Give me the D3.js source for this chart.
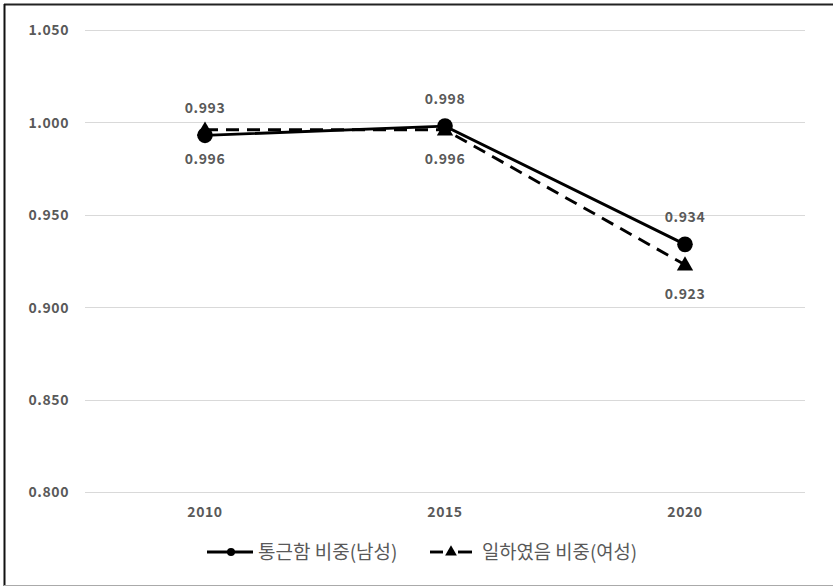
<!DOCTYPE html>
<html><head><meta charset="utf-8">
<script src="https://cdn.jsdelivr.net/npm/d3@7"></script>
<style>body{margin:0;background:#fff}svg{display:block}</style>
</head><body>
<svg id="c" width="833" height="587"></svg>
<script>
const categories = ["2010", "2015", "2020"];
const maleValues = [0.993, 0.998, 0.934];
const femaleValues = [0.996, 0.996, 0.923];
const yTicks = [0.800, 0.850, 0.900, 0.950, 1.000, 1.050];
const seriesNames = ["통근함 비중(남성)", "일하였음 비중(여성)"];

const svg = d3.select("#c");
const font = "'Noto Sans CJK KR','Noto Sans',sans-serif";
const txt = "#595959";

// outer frame
svg.append("rect").attr("x",0).attr("y",0).attr("width",833).attr("height",587).attr("fill","#fff");
svg.append("line").attr("x1",4).attr("x2",833).attr("y1",4.5).attr("y2",4.5).attr("stroke","#222").attr("stroke-width",2);
svg.append("line").attr("x1",4.5).attr("x2",4.5).attr("y1",4).attr("y2",586).attr("stroke","#111").attr("stroke-width",2);
svg.append("line").attr("x1",4).attr("x2",833).attr("y1",585.5).attr("y2",585.5).attr("stroke","#aaa").attr("stroke-width",1);

const x = d3.scaleBand().domain(categories).range([85, 805]);
const y = d3.scaleLinear().domain([0.8, 1.05]).range([492, 30]);

// gridlines
svg.append("g").selectAll("line").data(yTicks).join("line")
  .attr("x1",85).attr("x2",805)
  .attr("y1",d=>Math.round(y(d))+0.5).attr("y2",d=>Math.round(y(d))+0.5)
  .attr("stroke","#d9d9d9").attr("stroke-width",1);

function styleText(sel, size){
  sel.attr("font-family",font).attr("font-size",size).attr("font-weight","bold")
     .attr("fill",txt).attr("letter-spacing","0.6px").attr("dy","0.35em");
}

// y axis labels
const yAxis = d3.axisLeft(y).tickValues(yTicks).tickFormat(d3.format(".3f")).tickSize(0).tickPadding(0);
const gy = svg.append("g").attr("transform","translate(69,0)").call(yAxis);
gy.select(".domain").remove();
gy.selectAll("text").call(styleText, 14);

// x axis labels
const xAxis = d3.axisBottom(x).tickSize(0).tickPadding(0);
const gx = svg.append("g").attr("transform","translate(0,512)").call(xAxis);
gx.select(".domain").remove();
gx.selectAll("text").call(styleText, 14);

const cx = d => x(d) + x.bandwidth()/2;
const line = d3.line().x(d=>cx(d.c)).y(d=>y(d.v));
const male = categories.map((c,i)=>({c, v:maleValues[i]}));
const female = categories.map((c,i)=>({c, v:femaleValues[i]}));

// female dashed line
svg.append("path").datum(female).attr("d",line).attr("fill","none")
  .attr("stroke","#000").attr("stroke-width",2.9).attr("stroke-dasharray","13,8");
// male solid line
svg.append("path").datum(male).attr("d",line).attr("fill","none")
  .attr("stroke","#000").attr("stroke-width",2.9);

const tri = d3.symbol().type(d3.symbolTriangle).size(115);
svg.append("g").selectAll("path").data(female).join("path")
  .attr("d",tri).attr("transform",d=>`translate(${cx(d.c)},${y(d.v)+1})`).attr("fill","#000");
svg.append("g").selectAll("circle").data(male).join("circle")
  .attr("cx",d=>cx(d.c)).attr("cy",d=>y(d.v)).attr("r",7.8).attr("fill","#000");

// data labels
svg.append("g").selectAll("text").data(male).join("text")
  .attr("x",d=>cx(d.c)).attr("y",d=>y(d.v)-27).attr("text-anchor","middle")
  .call(styleText, 14).text(d=>d3.format(".3f")(d.v));
svg.append("g").selectAll("text").data(female).join("text")
  .attr("x",d=>cx(d.c)).attr("y",d=>y(d.v)+29).attr("text-anchor","middle")
  .call(styleText, 14).text(d=>d3.format(".3f")(d.v));

// legend
const ly = 552;
const lg = svg.append("g");
lg.append("line").attr("x1",207).attr("x2",253).attr("y1",ly).attr("y2",ly).attr("stroke","#000").attr("stroke-width",2.9);
lg.append("circle").attr("cx",231).attr("cy",ly).attr("r",4).attr("fill","#000");
lg.append("text").attr("x",258).attr("y",ly).attr("dy","0.35em").attr("font-family",font).attr("font-size",19).attr("fill",txt).text(seriesNames[0]);
lg.append("line").attr("x1",430).attr("x2",443).attr("y1",ly).attr("y2",ly).attr("stroke","#000").attr("stroke-width",2.9);
lg.append("line").attr("x1",458).attr("x2",472).attr("y1",ly).attr("y2",ly).attr("stroke","#000").attr("stroke-width",2.9);
lg.append("path").attr("d",d3.symbol().type(d3.symbolTriangle).size(60)).attr("transform",`translate(451,${ly})`).attr("fill","#000");
lg.append("text").attr("x",482).attr("y",ly).attr("dy","0.35em").attr("font-family",font).attr("font-size",18.8).attr("fill",txt).text(seriesNames[1]);
</script>
</body></html>
